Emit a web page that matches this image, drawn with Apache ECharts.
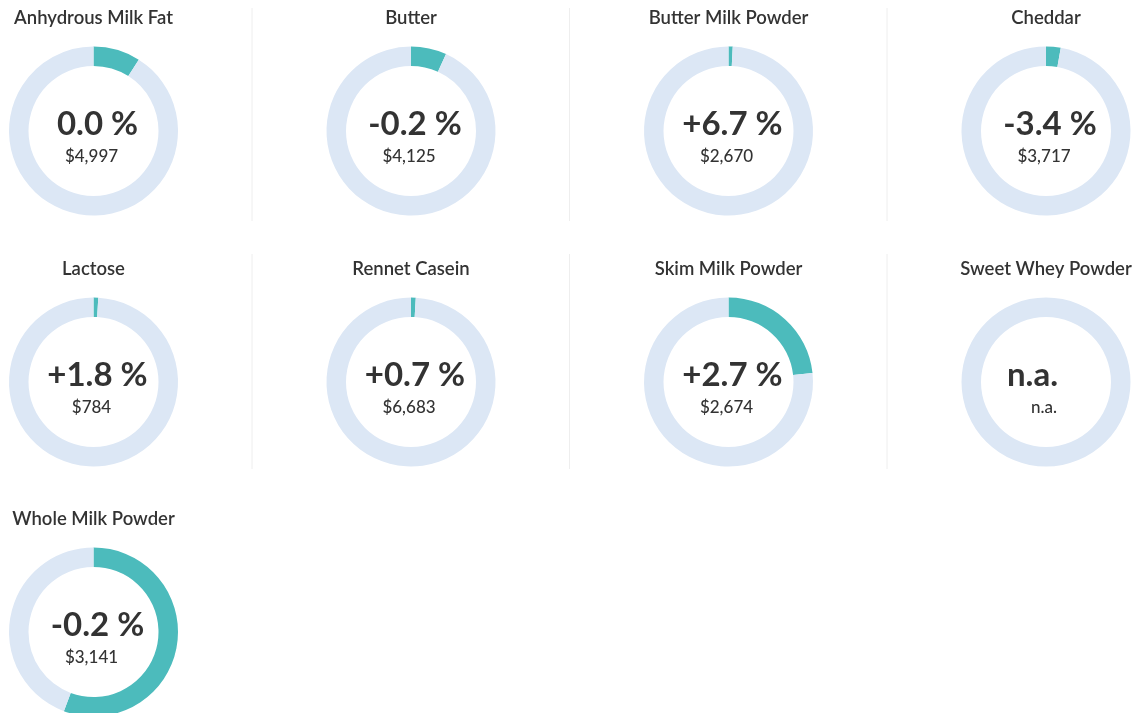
<!DOCTYPE html>
<html>
<head>
<meta charset="utf-8">
<script src="https://cdn.jsdelivr.net/npm/echarts@6/dist/echarts.min.js"></script>
<style>
  html, body { margin: 0; padding: 0; background: #fff; }
  #main { width: 1134px; height: 713px; }
</style>
</head>
<body>
<div id="main"></div>
<script>
// product names, in grid order (4 per row)
const products = ['Anhydrous Milk Fat', 'Butter', 'Butter Milk Powder', 'Cheddar',
  'Lactose', 'Rennet Casein', 'Skim Milk Powder', 'Sweet Whey Powder', 'Whole Milk Powder'];
// price change vs previous event, null = n.a.
const changes = ['0.0', '-0.2', '+6.7', '-3.4', '+1.8', '+0.7', '+2.7', null, '-0.2'];
// average price (USD/t), null = n.a.
const prices = [4997, 4125, 2670, 3717, 784, 6683, 2674, null, 3141];
// share of volume shown by the teal arc (%)
const shares = [9.0, 6.8, 0.8, 2.8, 0.9, 0.9, 23.3, 0, 55.7];

const chart = echarts.init(document.getElementById('main'));

const colX = [93.5, 411, 728.5, 1046];
const rowY = [131, 382, 632];
const titleY = [8.5, 259.5, 509.5];
const teal = '#4cbbbc';
const ring = '#dce7f5';
const font = 'Lato, "Open Sans", sans-serif';

const series = [];
const titles = [];
products.forEach((name, i) => {
  const cx = colX[i % 4], cy = rowY[Math.floor(i / 4)];
  const na = changes[i] === null;
  const mainTxt = na ? '{v|n.a.}{h| %}' : '{v|' + changes[i] + ' %}';
  const priceTxt = na ? 'n.a.' : '$' + prices[i].toLocaleString('en-US');
  titles.push({
    text: name,
    left: cx,
    top: titleY[Math.floor(i / 4)],
    padding: 0,
    textAlign: 'center',
    textStyle: { fontFamily: font, fontSize: 18.5, fontWeight: 600, color: '#333' }
  });
  series.push({
    type: 'pie',
    center: [cx, cy],
    radius: [65, 84.5],
    startAngle: 90,
    clockwise: true,
    silent: true,
    avoidLabelOverlap: false,
    labelLine: { show: false },
    data: [
      { value: shares[i], itemStyle: { color: teal }, label: { show: false } },
      {
        value: 100 - shares[i],
        itemStyle: { color: ring },
        label: {
          show: true,
          position: 'center',
          padding: [8, 0, 0, 0],
          formatter: mainTxt + '\n{p|' + priceTxt + '}',
          rich: {
            v: { fontFamily: font, fontSize: 33, fontWeight: 'bold', color: '#333', lineHeight: 44, padding: [0, 0, 0, 8] },
            h: { fontFamily: font, fontSize: 33, fontWeight: 'bold', color: 'rgba(0,0,0,0)', lineHeight: 44 },
            p: { fontFamily: font, fontSize: 17, fontWeight: 500, color: '#333', lineHeight: 22, padding: [0, 4, 0, 0] }
          }
        }
      }
    ]
  });
});

// thin dividers between columns on the first two rows
const dividers = [];
[[8, 221], [254, 469]].forEach(([y1, y2]) => {
  [252, 569.5, 887].forEach(x => {
    dividers.push({
      type: 'line',
      shape: { x1: x, y1: y1, x2: x, y2: y2 },
      style: { stroke: '#eeeeee', lineWidth: 1 },
      silent: true
    });
  });
});

chart.setOption({
  animation: false,
  title: titles,
  graphic: dividers,
  series: series
});
</script>
</body>
</html>
